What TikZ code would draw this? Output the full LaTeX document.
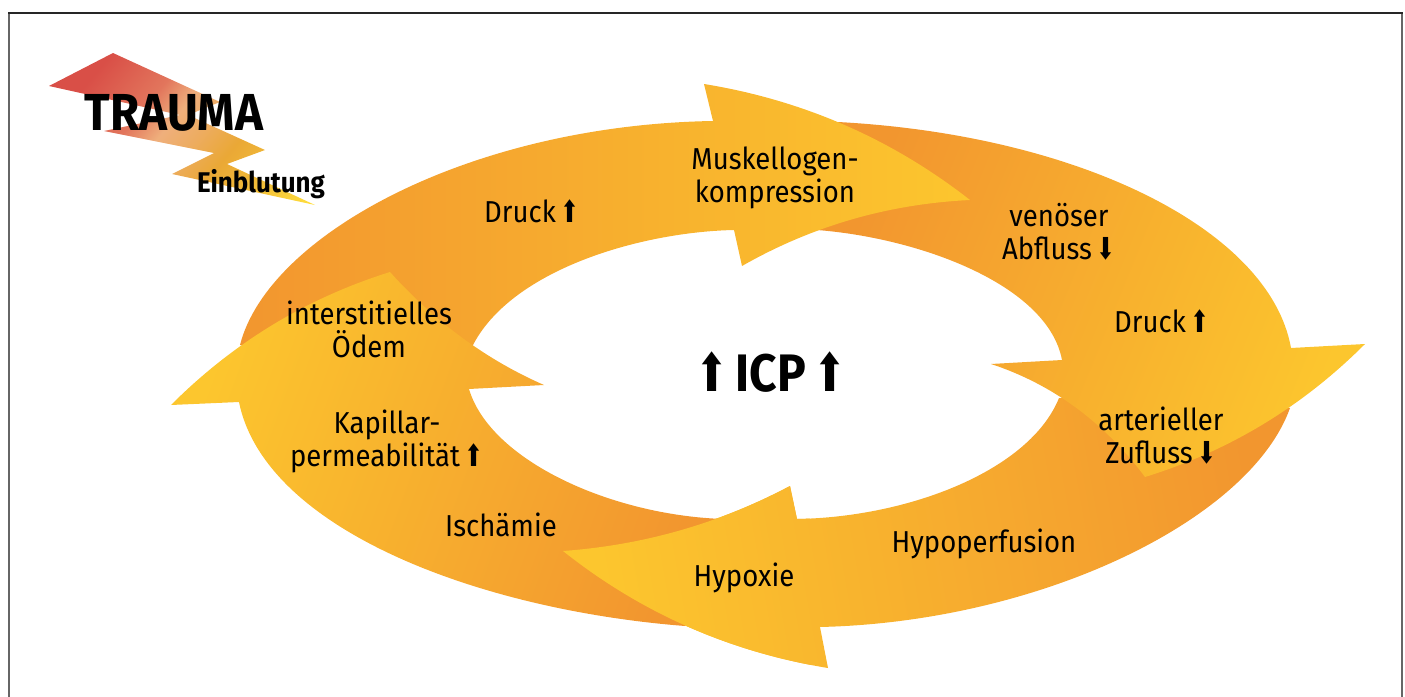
\documentclass[tikz,border=0pt]{standalone}
\usepackage{fontspec}
\setmainfont[FakeStretch=0.91]{Fira Sans}
\newfontfamily\arrowfont[FakeStretch=0.75]{DejaVu Sans}
\usetikzlibrary{positioning}

\definecolor{boltred}{HTML}{D94F47}
\definecolor{boltsalmon}{HTML}{EFAF7C}
\definecolor{boltamber}{HTML}{EAA836}
\definecolor{boltyellow}{HTML}{FFDD3C}
\definecolor{ringdark}{HTML}{F2962F}
\definecolor{ringlight}{HTML}{FCC62E}
\pgfdeclarehorizontalshading{boltshade}{100bp}{
  color(0bp)=(boltred); color(26bp)=(boltred); color(40bp)=(boltred!60!boltsalmon); color(47bp)=(boltsalmon);
  color(54bp)=(boltsalmon!60!boltamber); color(62bp)=(boltamber); color(72bp)=(boltamber!60!boltyellow); color(84bp)=(boltyellow); color(100bp)=(boltyellow)}
\newcommand{\uparr}{\hspace{1.4pt}{\arrowfont ⬆}}
\newcommand{\downarr}{\hspace{1.4pt}{\arrowfont ⬇}}
\newcommand{\bottomring}{
  (820,627) -- (828,668) .. controls (730,652) and (641,613) .. (563,551)
  .. controls (645,545) and (720,523) .. (790,486)
  -- (797,519) .. controls (910,517) and (1030,470) .. (1059,398) -- (1290,408)
  .. controls (1250,520) and (1040,622) .. (820,627) -- cycle}

\begin{document}
\begin{tikzpicture}[x=0.01cm,y=-0.01cm,
  label node/.style={font=\fontsize{8.6}{9.35}\selectfont,align=center,inner sep=0pt},
  ring arrow/.style={left color=ringdark,right color=ringlight,draw=none}]

  \useasboundingbox (0,0) rectangle (1405,697);
  \draw[line width=0.6pt,black!60] (9,697) -- (9,13) (1402,13) -- (1402,697);
  \draw[line width=0.4pt,black!85] (8,13) -- (1403,13);

  \path[ring arrow,shading angle=280] \bottomring;

  \path[ring arrow,shading angle=68]
    (838,122) .. controls (1080,135) and (1270,230) .. (1291,348)
    -- (1365,344) .. controls (1302,407) and (1229,451) .. (1145,477)
    .. controls (1104,422) and (1052,384) .. (991,364)
    -- (1062,360) .. controls (1048,285) and (920,238) .. (817,230) -- cycle;

  \path[ring arrow,shading angle=90]
    (240,345) .. controls (268,235) and (470,125) .. (713,121)
    -- (704,84) .. controls (803,100) and (892,139) .. (970,200)
    .. controls (888,204) and (812,226) .. (742,266)
    -- (734,230) .. controls (640,232) and (510,270) .. (472,347) -- cycle;

  \path[ring arrow,shading angle=250]
    (685,626) .. controls (480,610) and (265,530) .. (239,402)
    -- (171,405) .. controls (234,342) and (307,298) .. (390,272)
    .. controls (436,323) and (487,360) .. (544,385)
    -- (469,389) .. controls (490,460) and (610,515) .. (723,519) -- cycle;

  \begin{scope}
    \clip (550,470) rectangle (810,680);
    \path[ring arrow,shading angle=280] \bottomring;
  \end{scope}

  \path[shading=boltshade,shading angle=-40]
    (49,86) -- (113,53) -- (220,102) -- (188,115) -- (265,150) -- (227,164) -- (315,205)
    -- (172,174) -- (214,153) -- (104,131) -- (180,115) -- cycle;

  \node[label node,font=\fontsize{14.8}{15}\selectfont\bfseries] (trauma) at (174,113) {TRAUMA};
  \node[label node,font=\fontsize{8.1}{9}\selectfont\bfseries] (bleeding) at (261,184) {Einblutung};
  \node[label node,font=\fontsize{15}{15}\selectfont\bfseries] (icp) at (771,372) {{\arrowfont\mdseries ⬆}\hspace{2pt}ICP\hspace{2pt}{\arrowfont\mdseries ⬆}};
  \node[label node] (pressure1) at (532,211) {Druck\uparr};
  \node[label node] (muscle) at (775,178) {Muskellogen-\\kompression};
  \node[label node] (venous) at (1059,232) {venöser\\Abfluss\downarr};
  \node[label node] (pressure2) at (1162,321) {Druck\uparr};
  \node[label node] (arterial) at (1161,436) {arterieller\\Zufluss\downarr};
  \node[label node] (hypoperf) at (984,544) {Hypoperfusion};
  \node[label node] (hypoxia) at (744,578) {Hypoxie};
  \node[label node] (ischemia) at (501,525) {Ischämie};
  \node[label node] (capillary) at (387,441) {Kapillar-\\permeabilität\uparr};
  \node[label node] (edema) at (369,329) {interstitielles\\Ödem};
\end{tikzpicture}
\end{document}
